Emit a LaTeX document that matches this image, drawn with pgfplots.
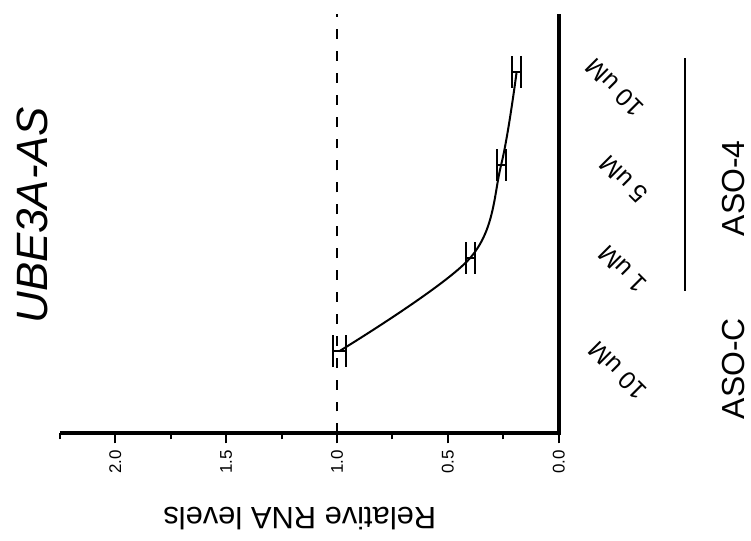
\documentclass[border=0pt]{standalone}
\usepackage{fontspec}
\setmainfont{Liberation Sans}
\usepackage{pgfplots}
\pgfplotsset{compat=1.18}

\begin{document}
\begin{tikzpicture}
\begin{axis}[
  scale only axis, width=250.4pt, height=210.5pt,
  xmin=0, xmax=2.25, x dir=reverse,
  ymin=-0.882, ymax=3.62,
  axis x line*=bottom,
  axis y line=none,
  x axis line style={line width=2pt, -},
  xtick={0,0.5,1.0,1.5,2.0},
  minor xtick={0.25,0.75,1.25,1.75,2.25},
  tick align=outside,
  major tick length=5pt, minor tick length=3pt,
  every tick/.style={line width=1pt, black},
  xticklabel style={rotate=90, anchor=east, font=\fontsize{8.5}{8.5}\selectfont},
  /pgf/number format/assume math mode=true,
  xticklabel={\pgfmathprintnumber[fixed, precision=1, fixed zerofill]{\tick}},
  clip=false,
]
\addplot[black, line width=0.8pt, dash pattern=on 5pt off 6pt] coordinates {(1,-0.882) (1,3.62)};
\addplot[black, line width=1pt, smooth, tension=0.55, mark=none,
  error bars/.cd, x dir=both, x explicit,
  error bar style={line width=1pt},
  error mark options={rotate=90, mark size=8pt, line width=1pt}]
  coordinates {(0.99,0) +- (0.03,0) (0.40,1) +- (0.02,0) (0.26,2) +- (0.02,0) (0.19,3) +- (0.02,0)};
\draw[line width=2pt] ([yshift=-1pt]axis cs:0,-0.882) -- (axis cs:0,3.62);
\node[rotate=90, font=\fontsize{22}{22}\selectfont\itshape] at (axis cs:2.376,1.46) {UBE3A-AS};
\node[rotate=180, font=\fontsize{15.5}{16}\selectfont] at (axis cs:1.168,-1.791) {Relative RNA levels};
\node[rotate=135, inner sep=0pt, font=\fontsize{12.5}{12.5}\selectfont] at (axis cs:-0.265,-0.209) {10 uM};
\node[rotate=135, inner sep=0pt, font=\fontsize{12.5}{12.5}\selectfont] at (axis cs:-0.288,0.882) {1 uM};
\node[rotate=135, inner sep=0pt, font=\fontsize{12.5}{12.5}\selectfont] at (axis cs:-0.292,1.845) {5 uM};
\node[rotate=135, inner sep=0pt, font=\fontsize{12.5}{12.5}\selectfont] at (axis cs:-0.252,2.829) {10 uM};
\node[rotate=90, font=\fontsize{16}{16}\selectfont] at (axis cs:-0.786,-0.187) {ASO-C};
\node[rotate=90, font=\fontsize{16}{16}\selectfont] at (axis cs:-0.786,1.749) {ASO-4};
\draw[line width=1pt] (axis cs:-0.5705,0.647) -- (axis cs:-0.5705,3.15);
\path (axis cs:2.52,3.77) rectangle (axis cs:-0.8535,-2.027);
\end{axis}
\end{tikzpicture}
\end{document}
